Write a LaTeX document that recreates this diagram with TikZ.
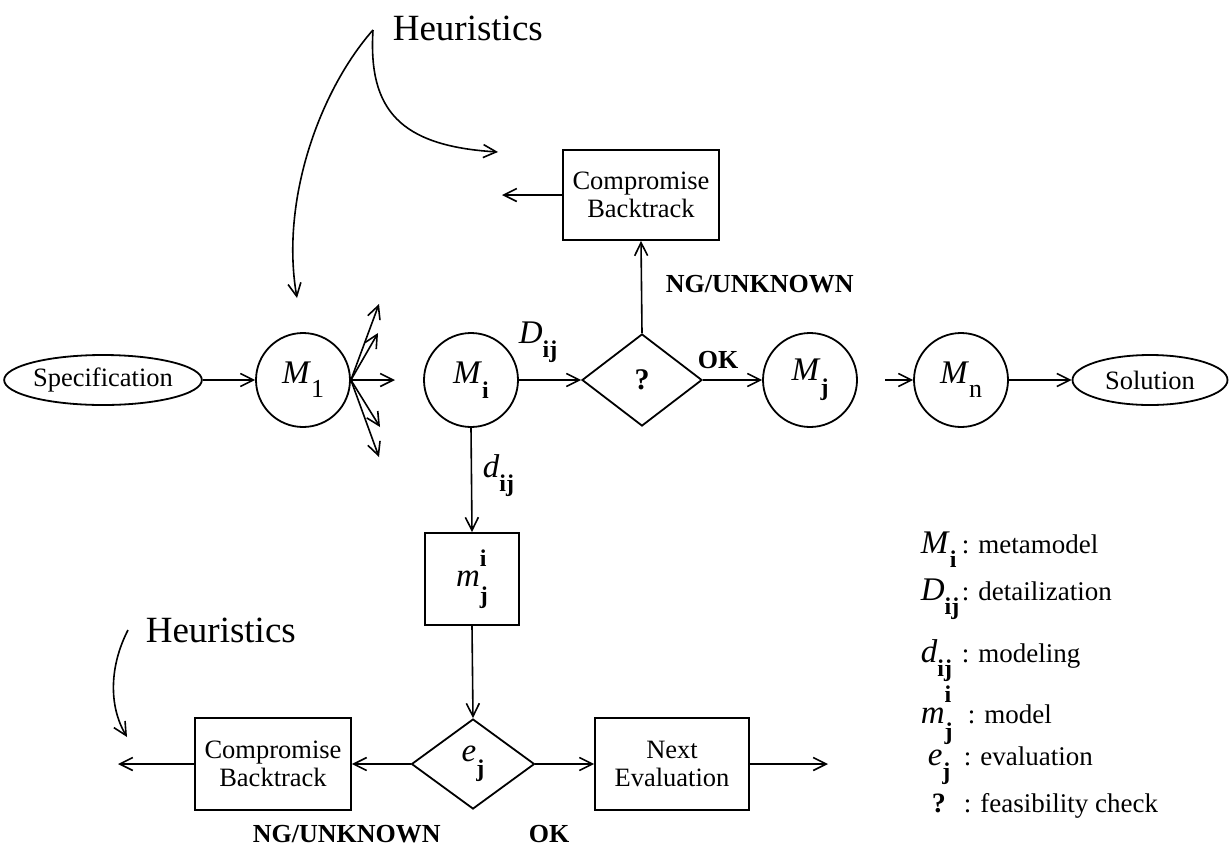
\documentclass[tikz,border=0pt]{standalone}
\usepackage{fontspec}
\setmainfont{Liberation Serif}
\usetikzlibrary{arrows.meta,shapes.geometric}

\newcommand{\fsz}[1]{\fontsize{#1}{#1}\selectfont}
% index fonts: bold letters, regular digits
\newcommand{\idxb}{\fsz{24}\bfseries}
\newcommand{\idxr}{\fsz{26}}
% italic symbol with a lowered bold index
\newcommand{\symsub}[2]{\textit{#1}\raisebox{-0.45em}{\idxb #2}}
% italic symbol with a lowered regular index
\newcommand{\symsubr}[2]{\textit{#1}\raisebox{-0.42em}{\idxr #2}}
% italic symbol with raised and lowered indices
\newcommand{\symsupsub}[3]{\textit{#1}\makebox[0pt][l]{\raisebox{0.62em}{\idxb #2}}\raisebox{-0.5em}{\idxb #3}}

\begin{document}
\begin{tikzpicture}[x=1pt,y=-1pt,
  line width=1.6pt,
  arr/.style={-{Straight Barb[length=13pt,width=13pt]}},
  circ/.style={circle,draw,line width=1.8pt,minimum size=94pt,inner sep=0pt,font=\fsz{33}},
  oval/.style={ellipse,draw,line width=1.8pt,minimum height=50pt,inner sep=0pt,font=\fsz{26.5}},
  dia/.style={diamond,draw,line width=1.8pt,inner sep=0pt,font=\fsz{33}},
  box/.style={rectangle,draw,line width=1.8pt,inner sep=0pt,align=center,font=\fontsize{26.5}{28}\selectfont},
  lab/.style={inner sep=0pt,anchor=base west,font=\fsz{26}\bfseries},
  heur/.style={inner sep=0pt,anchor=base west,font=\fsz{37}},
  symlbl/.style={inner sep=0pt,anchor=base west,font=\fsz{33}},
  legtxt/.style={inner sep=0pt,anchor=base west,font=\fsz{27}}]
\useasboundingbox (0,0) rectangle (1230,849);

% main row
\node[oval,minimum width=180pt] (spec) at (103,380) {Specification};
\node[circ] (m1) at (303,380) {\symsubr{M}{1}};
\node[circ] (mi) at (471,380) {\symsub{M}{i}};
\node[dia,minimum width=120pt,minimum height=92pt] (q) at (642,380) {\fsz{30}\bfseries ?};
\node[circ] (mj) at (810,380) {\symsub{M}{j}};
\node[circ] (mn) at (961,380) {\symsubr{M}{n}};
\node[oval,minimum width=155pt] (sol) at (1150,380) {Solution};

% backtrack box above the feasibility check
\node[box,minimum width=156pt,minimum height=90pt] (comp1) at (641,195) {Compromise\\Backtrack};

% modeling column and evaluation row
\node[box,minimum width=94pt,minimum height=92pt,font=\fsz{33}] (mbox) at (472,579) {\symsupsub{m}{i}{j}};
\node[dia,minimum width=123pt,minimum height=90pt] (ej) at (473,764) {\symsub{e}{j}};
\node[box,minimum width=156pt,minimum height=92pt] (comp2) at (273,764) {Compromise\\Backtrack};
\node[box,minimum width=154pt,minimum height=92pt] (next) at (672,764) {Next\\Evaluation};

% free ends of connectors
\coordinate (f1) at (379,304);
\coordinate (f2) at (378,333);
\coordinate (f3) at (395,380);
\coordinate (f4) at (380,427);
\coordinate (f5) at (379,457);
\coordinate (mnin) at (885,380);
\coordinate (c1out) at (502,195);
\coordinate (c2out) at (118,764);
\coordinate (nout) at (828,764);
\coordinate (apex) at (373,30);
\coordinate (h2s) at (128,630);

% connectors
\draw[arr] (spec.east) -- (m1.west);
\foreach \f in {f1,f2,f3,f4,f5} \draw[arr] (m1.east) -- (\f);
\draw[arr] (mi.east) -- (q.west);
\draw[arr] (q.east) -- (mj.west);
\draw[arr] (mnin) -- (mn.west);
\draw[arr] (mn.east) -- (sol.west);
\draw[arr] (q.north) -- (comp1.south);
\draw[arr] (comp1.west) -- (c1out);
\draw[arr] (mi.south) -- (mbox.north);
\draw[arr] (mbox.south) -- (ej.north);
\draw[arr] (ej.west) -- (comp2.east);
\draw[arr] (comp2.west) -- (c2out);
\draw[arr] (ej.east) -- (next.west);
\draw[arr] (next.east) -- (nout);

% heuristics
\node[heur] (h1) at (392,40) {Heuristics};
\node[heur] (h2) at (145,642) {Heuristics};
\draw[arr] (apex) .. controls (320,90) and (280,200) .. (297,298);
\draw[arr] (apex) .. controls (368,110) and (400,146) .. (498,152);
\draw[arr] (h2s) .. controls (110,665) and (108,705) .. (127,737);

% edge labels
\node[symlbl] (Dl) at (518,343) {\symsub{D}{ij}};
\node[symlbl] (dl) at (482,477) {\symsub{d}{ij}};
\node[lab] (ok1) at (697,368) {OK};
\node[lab] (ng1) at (665,292) {NG/UNKNOWN};
\node[lab] (ng2) at (252,842) {NG/UNKNOWN};
\node[lab] (ok2) at (528,842) {OK};

% legend
\node[symlbl] (lgM) at (920,553) {\symsub{M}{i}};
\node[legtxt] (lgMt) at (961,553) {: metamodel};
\node[symlbl] (lgD) at (920,600) {\symsub{D}{ij}};
\node[legtxt] (lgDt) at (961,600) {: detailization};
\node[symlbl] (lgd) at (920,662) {\symsub{d}{ij}};
\node[legtxt] (lgdt) at (961,662) {: modeling};
\node[symlbl] (lgm) at (920,723) {\symsupsub{m}{i}{j}};
\node[legtxt] (lgmt) at (967,723) {: model};
\node[symlbl] (lge) at (927,765) {\symsub{e}{j}};
\node[legtxt] (lget) at (963,765) {: evaluation};
\node[symlbl,font=\fsz{28}\bfseries] (lgq) at (931,812) {?};
\node[legtxt] (lgqt) at (963,812) {: feasibility check};
\end{tikzpicture}
\end{document}
